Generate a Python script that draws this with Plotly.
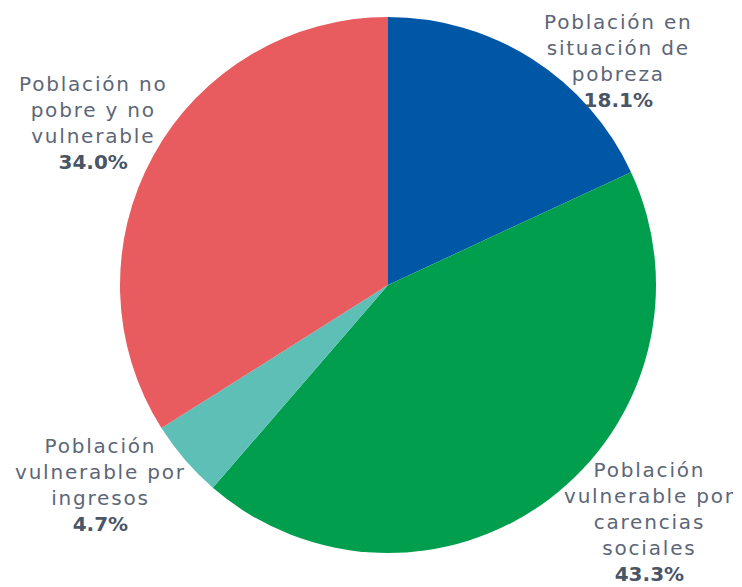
import plotly.graph_objects as go

# page body adds an 8px margin; figure is sized to fit the window
OFF = 8
W, H = 742 - OFF, 587 - OFF

categories = [
    "Población en situación de pobreza",
    "Población vulnerable por carencias sociales",
    "Población vulnerable por ingresos",
    "Población no pobre y no vulnerable",
]
values = [18.1, 43.3, 4.7, 34.0]
colors = ["#0057A6", "#009E4D", "#5DBFB6", "#E85B5F"]

label_lines = [
    ["Población en", "situación de", "pobreza"],
    ["Población", "vulnerable por", "carencias", "sociales"],
    ["Población", "vulnerable por", "ingresos"],
    ["Población no", "pobre y no", "vulnerable"],
]
# label block centers (x, y) in window pixels
label_pos = [(618, 61), (649, 522), (100, 485), (93, 123)]

cx, cy, r = 388 - OFF, 285 - OFF, 268

fig = go.Figure(go.Pie(
    labels=categories,
    values=values,
    sort=False,
    direction="clockwise",
    rotation=0,
    marker=dict(colors=colors, line=dict(width=0)),
    textinfo="none",
    hoverinfo="label+percent",
    domain=dict(x=[(cx - r) / W, (cx + r) / W],
                y=[(H - cy - r) / H, (H - cy + r) / H]),
    showlegend=False,
))

annotations = []
for lines, v, (x, y) in zip(label_lines, values, label_pos):
    body = "<br>".join(f"<span style='letter-spacing:1.8px'>{t}</span>" for t in lines)
    text = body + f"<br><b><span style='color:#4A5566'>{v:.1f}%</span></b>"
    annotations.append(dict(
        x=(x - OFF) / W, y=1 - (y - OFF) / H, xref="paper", yref="paper",
        text=text, showarrow=False, xanchor="center", yanchor="middle",
        align="center",
        font=dict(family="DejaVu Sans", size=20, color="#5C6677"),
    ))

fig.update_layout(
    width=W, height=H,
    margin=dict(l=0, r=0, t=0, b=0),
    paper_bgcolor="white", plot_bgcolor="white",
    annotations=annotations,
)

fig.write_html("out.html")
